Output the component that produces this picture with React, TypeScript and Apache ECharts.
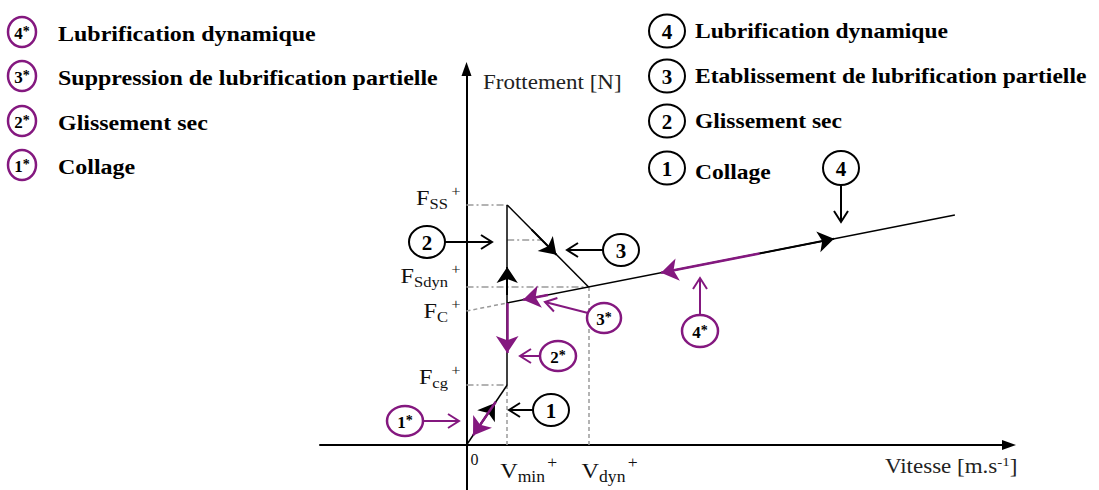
import React, { useEffect, useRef } from 'react';
import * as echarts from 'echarts';

// ---- characteristic values of the friction curve (arbitrary units) ----
const V_MIN = 1.0;
const V_DYN = 3.0;
const V_END = 12.0;
const F_CG = 3.0;
const F_C_AXIS = 6.7;
const F_C = 7.1;
const F_SDYN = 7.9;
const F_MID = 10.25;
const F_SS = 12.0;
const F_END = 11.5;

// thin black friction curve
const curveSegments = [
  [[0, 0], [V_MIN, F_CG]],
  [[V_MIN, F_CG], [V_MIN, F_SS]],
  [[V_MIN, F_SS], [V_DYN, F_SDYN]],
  [[V_MIN, F_C], [V_END, F_END]],
];
// loading path arrows (black)
const blackArrowSegments = [
  [[0.35, 1.05], [0.7, 2.1]],
  [[V_MIN, 7.5], [V_MIN, 8.9]],
  [[1.6, 10.77], [2.21, 9.51]],
  [[7.2, 9.58], [9.03, 10.31]],
];
// unloading path arrows (purple)
const purpleArrowSegments = [
  [[0.72, 2.16], [0.16, 0.48]],
  [[V_MIN, F_C], [V_MIN, 4.6]],
  [[2.0, 7.5], [1.39, 7.26]],
  [[7.2, 9.58], [4.78, 8.61]],
];
// guide lines
const dashDotGuides = [
  [[0, F_SS], [V_MIN, F_SS]],
  [[V_MIN, F_MID], [1.85, F_MID]],
  [[0, F_SDYN], [V_DYN, F_SDYN]],
  [[0, F_CG], [V_MIN, F_CG]],
];
const dashedGuides = [
  [[0, F_C_AXIS], [V_MIN, F_C]],
  [[V_MIN, F_CG], [V_MIN, -0.1]],
  [[V_DYN, F_SDYN], [V_DYN, -0.1]],
];

// tick labels
const yTickValues = [F_SS, F_SDYN, F_C_AXIS, F_CG];
const yTickSubs = ['SS', 'Sdyn', 'C', 'cg'];
const yTickShift = [-8, -12, -1, -9];
const xTickValues = [V_MIN, V_DYN];
const xTickSubs = ['min', 'dyn'];

// legends
const loadingNumbers = ['4', '3', '2', '1'];
const loadingLabels = ['Lubrification dynamique', 'Etablissement de lubrification partielle', 'Glissement sec', 'Collage'];
const unloadingNumbers = ['4*', '3*', '2*', '1*'];
const unloadingLabels = ['Lubrification dynamique', 'Suppression de lubrification partielle', 'Glissement sec', 'Collage'];

const PURPLE = '#84187f';
const BLACK = '#000000';
const GRAY = '#9a9a9a';
const SERIF = 'Liberation Serif, Times New Roman, serif';

function circled(cx: number, cy: number, rx: number, ry: number, color: string, label: string, fontSize: number, lw: number) {
  const star = label.includes('*');
  const num = label.replace('*', '');
  const text = star ? `{n|${num}}{s|*}` : `{n|${num}}`;
  return [
    { type: 'ellipse', z: 20, shape: { cx, cy, rx, ry }, style: { fill: '#fff', stroke: color, lineWidth: lw } },
    {
      type: 'text', x: cx, y: cy + 1, z: 21,
      style: {
        text, align: 'center', verticalAlign: 'middle', textAlign: 'center', textVerticalAlign: 'middle',
        rich: {
          n: { fontFamily: SERIF, fontWeight: 'bold', fontSize, fill: '#000' },
          s: { fontFamily: SERIF, fontWeight: 'bold', fontSize: Math.round(fontSize * 0.8), fill: '#000', verticalAlign: 'top', lineHeight: fontSize * 0.8 },
        },
      },
    },
  ];
}

function arrow(x1: number, y1: number, x2: number, y2: number, color: string) {
  const ang = Math.atan2(y2 - y1, x2 - x1);
  const L = 11, W = 7;
  const bx = x2 - L * Math.cos(ang), by = y2 - L * Math.sin(ang);
  const px = -Math.sin(ang) * W, py = Math.cos(ang) * W;
  return [
    { type: 'line', z: 19, shape: { x1, y1, x2, y2 }, style: { stroke: color, lineWidth: 2 } },
    { type: 'polyline', z: 19, shape: { points: [[bx + px, by + py], [x2, y2], [bx - px, by - py]] }, style: { stroke: color, lineWidth: 2, fill: null } },
  ];
}

function plainText(x: number, y: number, text: string, size: number, weight: string, scaleX: number, fill = '#000') {
  return {
    type: 'text', x, y, scaleX, z: 21,
    style: { text, fontFamily: SERIF, fontSize: size, fontWeight: weight, fill, align: 'left', verticalAlign: 'middle', textAlign: 'left', textVerticalAlign: 'middle' },
  };
}

function buildGraphics(chart: any) {
  const g: any[] = [];
  // left legend (purple)
  const leftYs = [32, 76, 121, 165];
  unloadingNumbers.forEach((n, i) => {
    g.push(...circled(22, leftYs[i], 14, 15, PURPLE, n, 17, 2.5));
    g.push(plainText(58, leftYs[i] + 1, unloadingLabels[i], 22, 'bold', 1.09));
  });
  // right legend (black)
  const rightYs = [31, 76, 121, 168];
  loadingNumbers.forEach((n, i) => {
    g.push(...circled(667, rightYs[i], 18, 16.5, BLACK, n, 21, 2));
    g.push(plainText(695, rightYs[i] + (i === 3 ? 4 : 0), loadingLabels[i], 22, 'bold', 1.07));
  });

  // callouts (black)
  g.push(...arrow(445, 242, 492, 242, BLACK), ...circled(427, 242, 18, 16, BLACK, '2', 21, 2));
  g.push(...arrow(603, 250, 567, 250, BLACK), ...circled(621, 250, 18, 16, BLACK, '3', 21, 2));
  g.push(...arrow(533, 410, 509, 410, BLACK), ...circled(551, 410, 18, 16, BLACK, '1', 21, 2));
  g.push(...arrow(841, 184, 841, 222, BLACK), ...circled(841, 168, 18, 17, BLACK, '4', 21, 2));
  // callouts (purple)
  g.push(...arrow(423, 421, 459, 421, PURPLE), ...circled(405, 421, 18, 15, PURPLE, '1*', 17, 2.5));
  g.push(...arrow(540, 356, 520, 356, PURPLE), ...circled(558, 356, 18, 15, PURPLE, '2*', 17, 2.5));
  g.push(...arrow(588, 313, 545, 302, PURPLE), ...circled(604, 318, 17, 15, PURPLE, '3*', 17, 2.5));
  g.push(...arrow(700, 315, 700, 278, PURPLE), ...circled(700, 331, 18, 16, PURPLE, '4*', 17, 2.5));

  // y tick labels
  const tickRich = {
    f: { fontFamily: SERIF, fontSize: 22, lineHeight: 28, fill: '#111' },
    sub: { fontFamily: SERIF, fontSize: 15, lineHeight: 14, verticalAlign: 'bottom', fill: '#111' },
    sup: { fontFamily: SERIF, fontSize: 15, lineHeight: 14, verticalAlign: 'top', fill: '#111', padding: [0, 0, 0, 3] },
  };
  yTickValues.forEach((v, i) => {
    const p = chart.convertToPixel({ gridIndex: 0 }, [0, v]);
    g.push({
      type: 'text', x: p[0] - 6, y: p[1] + yTickShift[i], scaleX: 1.1, z: 21,
      style: { text: `{f|F}{sub|${yTickSubs[i]}}{sup|+}`, align: 'right', verticalAlign: 'middle', textAlign: 'right', textVerticalAlign: 'middle', rich: tickRich },
    });
  });
  // x tick labels
  const o = chart.convertToPixel({ gridIndex: 0 }, [0, 0]);
  g.push(plainText(o[0] + 4, o[1] + 14, '0', 16, 'normal', 1.0, '#111'));
  xTickValues.forEach((v, i) => {
    const p = chart.convertToPixel({ gridIndex: 0 }, [v, 0]);
    g.push({
      type: 'text', x: p[0] - 7, y: p[1] + 10, scaleX: 1.1, z: 21,
      style: {
        text: `{f|V}{sub|${xTickSubs[i]}}{sup|+}`, align: 'left', verticalAlign: 'top', textAlign: 'left', textVerticalAlign: 'top',
        rich: {
          f: { fontFamily: SERIF, fontSize: 22, lineHeight: 30, fill: '#111' },
          sub: { fontFamily: SERIF, fontSize: 16, lineHeight: 16, verticalAlign: 'bottom', fill: '#111' },
          sup: { fontFamily: SERIF, fontSize: 16, lineHeight: 14, verticalAlign: 'top', fill: '#111', padding: [0, 0, 0, 2] },
        },
      },
    });
  });

  // axis titles
  g.push(plainText(483, 83, 'Frottement [N]', 20, 'normal', 1.15, '#222'));
  g.push({
    type: 'text', x: 885, y: 467, scaleX: 1.15, z: 21,
    style: {
      text: '{t|Vitesse [m.s}{s|-1}{t|]}', align: 'left', verticalAlign: 'middle', textAlign: 'left', textVerticalAlign: 'middle',
      rich: {
        t: { fontFamily: SERIF, fontSize: 20, lineHeight: 24, fill: '#222' },
        s: { fontFamily: SERIF, fontSize: 13, lineHeight: 12, verticalAlign: 'top', fill: '#222' },
      },
    },
  });
  return g;
}

const seg = (list: number[][][]) => list.map((c) => ({ coords: c }));

const axisCommon = {
  type: 'value',
  axisLine: { show: true, onZero: true, symbol: ['none', 'triangle'], symbolSize: [10, 14], lineStyle: { color: '#000', width: 2 } },
  axisTick: { show: false },
  axisLabel: { show: false },
  splitLine: { show: false },
};

const option: any = {
  animation: false,
  backgroundColor: '#ffffff',
  grid: { left: 320, right: 90, top: 69, bottom: 0, containLabel: false, outerBoundsMode: 'none' },
  xAxis: { ...axisCommon, min: -3.6, max: 13.33 },
  yAxis: { ...axisCommon, min: -2.25, max: 18.8 },
  series: [
    {
      type: 'lines', coordinateSystem: 'cartesian2d', silent: true, z: 1,
      data: seg(dashDotGuides), symbol: 'none',
      lineStyle: { color: GRAY, width: 1.5, opacity: 1, type: [7, 3, 2, 3] },
    },
    {
      type: 'lines', coordinateSystem: 'cartesian2d', silent: true, z: 1,
      data: seg(dashedGuides), symbol: 'none',
      lineStyle: { color: GRAY, width: 1.5, opacity: 1, type: [4, 3] },
    },
    {
      type: 'lines', coordinateSystem: 'cartesian2d', silent: true, z: 2,
      data: seg(curveSegments), symbol: 'none',
      lineStyle: { color: BLACK, width: 1.5, opacity: 1 },
    },
    {
      type: 'lines', coordinateSystem: 'cartesian2d', silent: true, z: 3,
      data: seg(blackArrowSegments), symbol: ['none', 'arrow'], symbolSize: 16,
      lineStyle: { color: BLACK, width: 2, opacity: 1 },
    },
    {
      type: 'lines', coordinateSystem: 'cartesian2d', silent: true, z: 4,
      data: seg(purpleArrowSegments), symbol: ['none', 'arrow'], symbolSize: 17,
      lineStyle: { color: PURPLE, width: 2.5, opacity: 1 },
    },
  ],
};

export default function App() {
  const ref = useRef<HTMLDivElement>(null);
  useEffect(() => {
    document.body.style.margin = '0';
    const chart = echarts.init(ref.current as HTMLDivElement, null, { renderer: 'svg' });
    chart.setOption(option);
    chart.setOption({ graphic: buildGraphics(chart) });
    return () => chart.dispose();
  }, []);
  return <div ref={ref} style={{ width: 1099, height: 490, background: '#fff' }} />;
}
